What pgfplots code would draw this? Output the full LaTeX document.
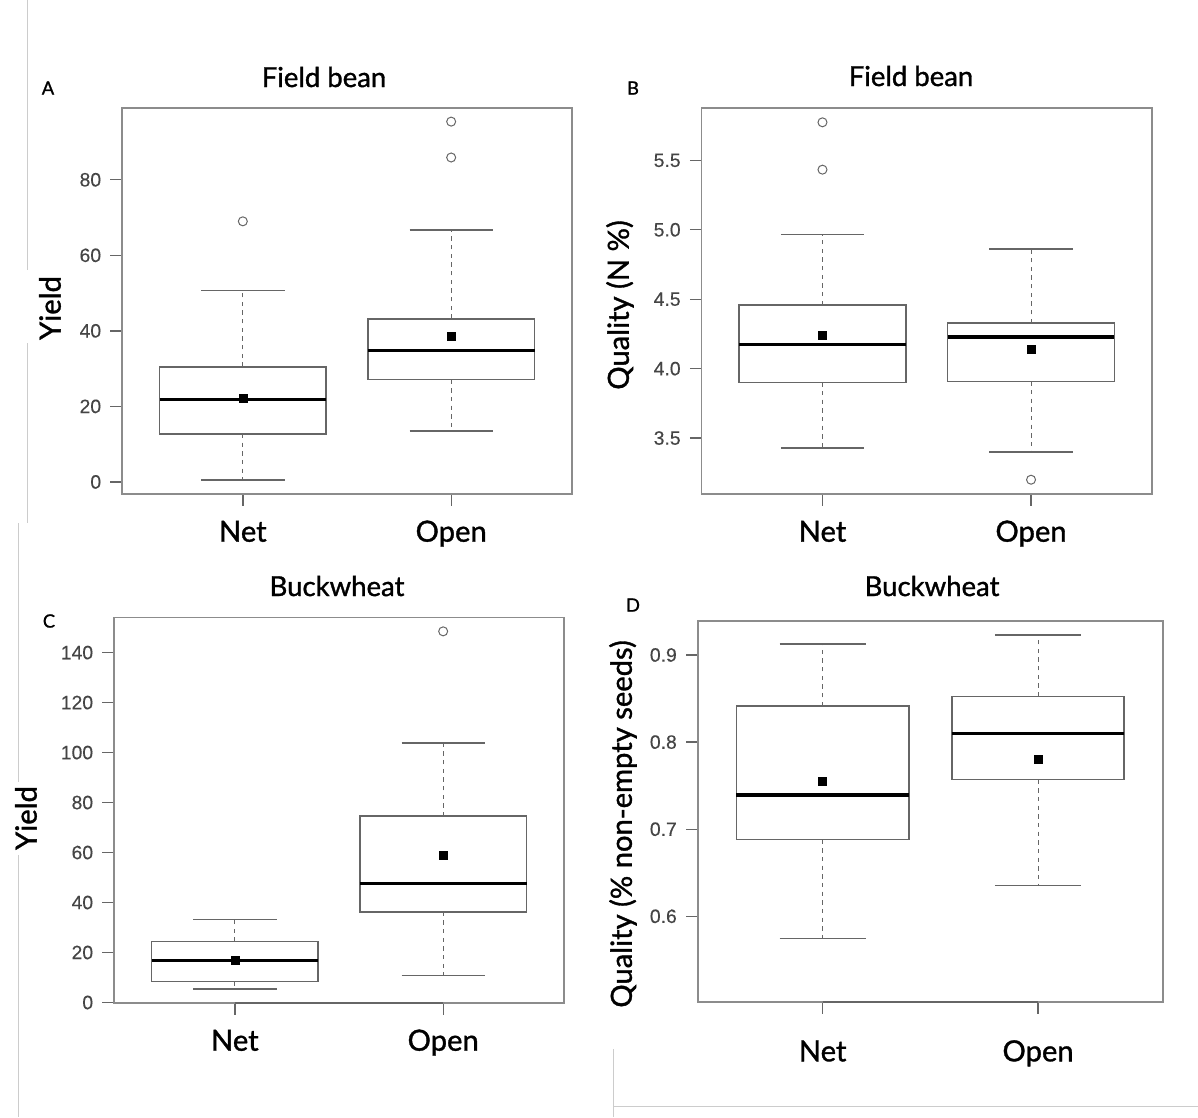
\documentclass[border=0pt]{standalone}
\usepackage{pgfplots}
\pgfplotsset{compat=1.18}
\usepgfplotslibrary{statistics}
\usepackage{fontspec}
\setmainfont{Lato}
\newfontfamily\labfont[FakeBold=1.2]{Lato}
\newfontfamily\tickfont[FakeBold=0.3]{Liberation Sans}
\definecolor{framegray}{gray}{0.55}
\definecolor{boxgray}{gray}{0.40}
\definecolor{ticktext}{gray}{0.27}
\definecolor{edgegray}{gray}{0.80}
\pgfplotsset{
  rpanel/.style={
    scale only axis,
    xmin=0.42, xmax=2.58,
    xtick={1,2}, xticklabels={Net,Open},
    tick pos=left, tick align=outside,
    major tick length=7pt,
    axis line style={draw=framegray, line width=1pt},
    major tick style={draw=boxgray, line width=0.8pt},
    xticklabel style={font=\labfont\fontsize{17.5}{20}\selectfont, text=black, anchor=base, yshift=-21.6pt},
    yticklabel style={font=\tickfont\fontsize{11.6}{13}\selectfont, text=ticktext, anchor=east, xshift=-2pt},
    /pgf/number format/assume math mode=true,
    clip=false,
  },
  rbox/.style={
    boxplot/draw direction=y,
    boxplot/box extend=0.8,
    boxplot/whisker extend=0.4,
    boxplot/every box/.style={draw=boxgray, line width=1pt, fill=white},
    boxplot/every median/.style={draw=black, line width=1.9pt},
    boxplot/draw/lower whisker/.code={
      \draw[boxgray, line width=0.6pt, dash pattern=on 2.6pt off 2.6pt]
        (boxplot cs:\pgfplotsboxplotvalue{lower quartile}) -- (boxplot cs:\pgfplotsboxplotvalue{lower whisker});
      \draw[boxgray, line width=1pt]
        (boxplot whisker cs:\pgfplotsboxplotvalue{lower whisker},0) -- (boxplot whisker cs:\pgfplotsboxplotvalue{lower whisker},1);
    },
    boxplot/draw/upper whisker/.code={
      \draw[boxgray, line width=0.6pt, dash pattern=on 2.6pt off 2.6pt]
        (boxplot cs:\pgfplotsboxplotvalue{upper quartile}) -- (boxplot cs:\pgfplotsboxplotvalue{upper whisker});
      \draw[boxgray, line width=1pt]
        (boxplot whisker cs:\pgfplotsboxplotvalue{upper whisker},0) -- (boxplot whisker cs:\pgfplotsboxplotvalue{upper whisker},1);
    },
  },
  rmean/.style={only marks, mark=square*, mark size=2.4pt, black},
  rout/.style={only marks, mark=o, mark size=2.7pt, draw=boxgray, mark options={line width=0.6pt, fill=white}},
}
\begin{document}
\begin{tikzpicture}
\path[use as bounding box] (0,0) rectangle (718.8pt,-670.2pt);
% screenshot edge lines
\draw[edgegray, line width=0.6pt] (16.2pt,0) -- (16.2pt,-162pt);
\draw[edgegray, line width=0.6pt] (16.2pt,-205.8pt) -- (16.2pt,-313.8pt);
\draw[edgegray, line width=0.6pt] (11.1pt,-313.8pt) -- (11.1pt,-469pt);
\draw[edgegray, line width=0.6pt] (11.1pt,-513pt) -- (11.1pt,-670.2pt);
\draw[edgegray, line width=0.6pt] (367.8pt,-629.4pt) -- (367.8pt,-670.2pt);
\draw[edgegray, line width=0.6pt] (367.8pt,-663.6pt) -- (718.8pt,-663.6pt);

% ---------------- Panel A ----------------
\begin{axis}[rpanel, at={(73.2pt,-296.4pt)}, anchor=south west,
  width=270pt, height=231.6pt, ymin=-3.2, ymax=99.0, ytick={0,20,40,60,80}]
\addplot[boxplot prepared={draw position=1, lower whisker=0.5, lower quartile=12.7, median=21.8, upper quartile=30.5, upper whisker=50.7}, rbox] coordinates {};
\addplot[boxplot prepared={draw position=2, lower whisker=13.4, lower quartile=27.1, median=34.8, upper quartile=43.2, upper whisker=66.7}, rbox] coordinates {};
\addplot[rmean] coordinates {(1,22.2) (2,38.5)};
\addplot[rout] coordinates {(1,69.0) (2,95.4) (2,85.9)};
\end{axis}

% ---------------- Panel B ----------------
\begin{axis}[rpanel, at={(420.9pt,-296.4pt)}, anchor=south west,
  width=270.3pt, height=231.6pt, ymin=3.097, ymax=5.877, ytick={3.5,4.0,4.5,5.0,5.5},
  yticklabel style={/pgf/number format/fixed, /pgf/number format/fixed zerofill, /pgf/number format/precision=1}]
\addplot[boxplot prepared={draw position=1, lower whisker=3.428, lower quartile=3.901, median=4.173, upper quartile=4.459, upper whisker=4.965}, rbox] coordinates {};
\addplot[boxplot prepared={draw position=2, lower whisker=3.399, lower quartile=3.908, median=4.228, upper quartile=4.328, upper whisker=4.861}, rbox] coordinates {};
\addplot[rmean] coordinates {(1,4.238) (2,4.141)};
\addplot[rout] coordinates {(1,5.774) (1,5.433) (2,3.200)};
\end{axis}

% ---------------- Panel C ----------------
\begin{axis}[rpanel, at={(68.4pt,-601.8pt)}, anchor=south west,
  width=270pt, height=231.4pt, ymin=-0.2, ymax=154.1, ytick={0,20,40,60,80,100,120,140}]
\addplot[boxplot prepared={draw position=1, lower whisker=5.4, lower quartile=8.4, median=16.7, upper quartile=24.4, upper whisker=33.2}, rbox] coordinates {};
\addplot[boxplot prepared={draw position=2, lower whisker=10.8, lower quartile=36.3, median=47.7, upper quartile=74.5, upper whisker=103.7}, rbox] coordinates {};
\addplot[rmean] coordinates {(1,16.9) (2,58.9)};
\addplot[rout] coordinates {(2,148.5)};
\draw[boxgray, line width=1pt] (axis cs:1,-0.2) -- (axis cs:2,-0.2);
\end{axis}

% ---------------- Panel D ----------------
\begin{axis}[rpanel, at={(418.6pt,-601.2pt)}, anchor=south west,
  width=279.2pt, height=228.6pt, ymin=0.5016, ymax=0.939, ytick={0.6,0.7,0.8,0.9},
  yticklabel style={/pgf/number format/fixed, /pgf/number format/fixed zerofill, /pgf/number format/precision=1},
  xticklabel style={yshift=-7pt}]
\addplot[boxplot prepared={draw position=1, lower whisker=0.5744, lower quartile=0.688, median=0.7392, upper quartile=0.8415, upper whisker=0.9126}, rbox] coordinates {};
\addplot[boxplot prepared={draw position=2, lower whisker=0.6353, lower quartile=0.7569, median=0.8102, upper quartile=0.8524, upper whisker=0.9232}, rbox] coordinates {};
\addplot[rmean] coordinates {(1,0.7555) (2,0.7797)};
\draw[boxgray, line width=1pt] (axis cs:1,0.5016) -- (axis cs:2,0.5016);
\end{axis}

% titles, panel letters, y labels
\node[anchor=base, font=\labfont\fontsize{16.5}{19}\selectfont] at (194.4pt,-52.2pt) {Field bean};
\node[anchor=base, font=\labfont\fontsize{16.5}{19}\selectfont] at (546.6pt,-51.6pt) {Field bean};
\node[anchor=base, font=\labfont\fontsize{16.5}{19}\selectfont] at (202.2pt,-357.6pt) {Buckwheat};
\node[anchor=base, font=\labfont\fontsize{16.5}{19}\selectfont] at (559.2pt,-357.6pt) {Buckwheat};
\node[font=\labfont\fontsize{11}{12}\selectfont] at (28.8pt,-52.8pt) {A};
\node[font=\labfont\fontsize{11}{12}\selectfont] at (379.8pt,-52.8pt) {B};
\node[font=\labfont\fontsize{11}{12}\selectfont] at (29.4pt,-372.6pt) {C};
\node[font=\labfont\fontsize{11}{12}\selectfont] at (379.8pt,-363pt) {D};
\node[rotate=90, font=\labfont\fontsize{17.5}{20}\selectfont] at (30pt,-184.8pt) {Yield};
\node[rotate=90, font=\labfont\fontsize{17.5}{20}\selectfont] at (372pt,-183pt) {Quality (N \%)};
\node[rotate=90, font=\labfont\fontsize{17.5}{20}\selectfont] at (15.6pt,-490.8pt) {Yield};
\node[rotate=90, font=\labfont\fontsize{17.5}{20}\selectfont] at (373.8pt,-494.4pt) {Quality (\% non-empty seeds)};
\end{tikzpicture}
\end{document}
